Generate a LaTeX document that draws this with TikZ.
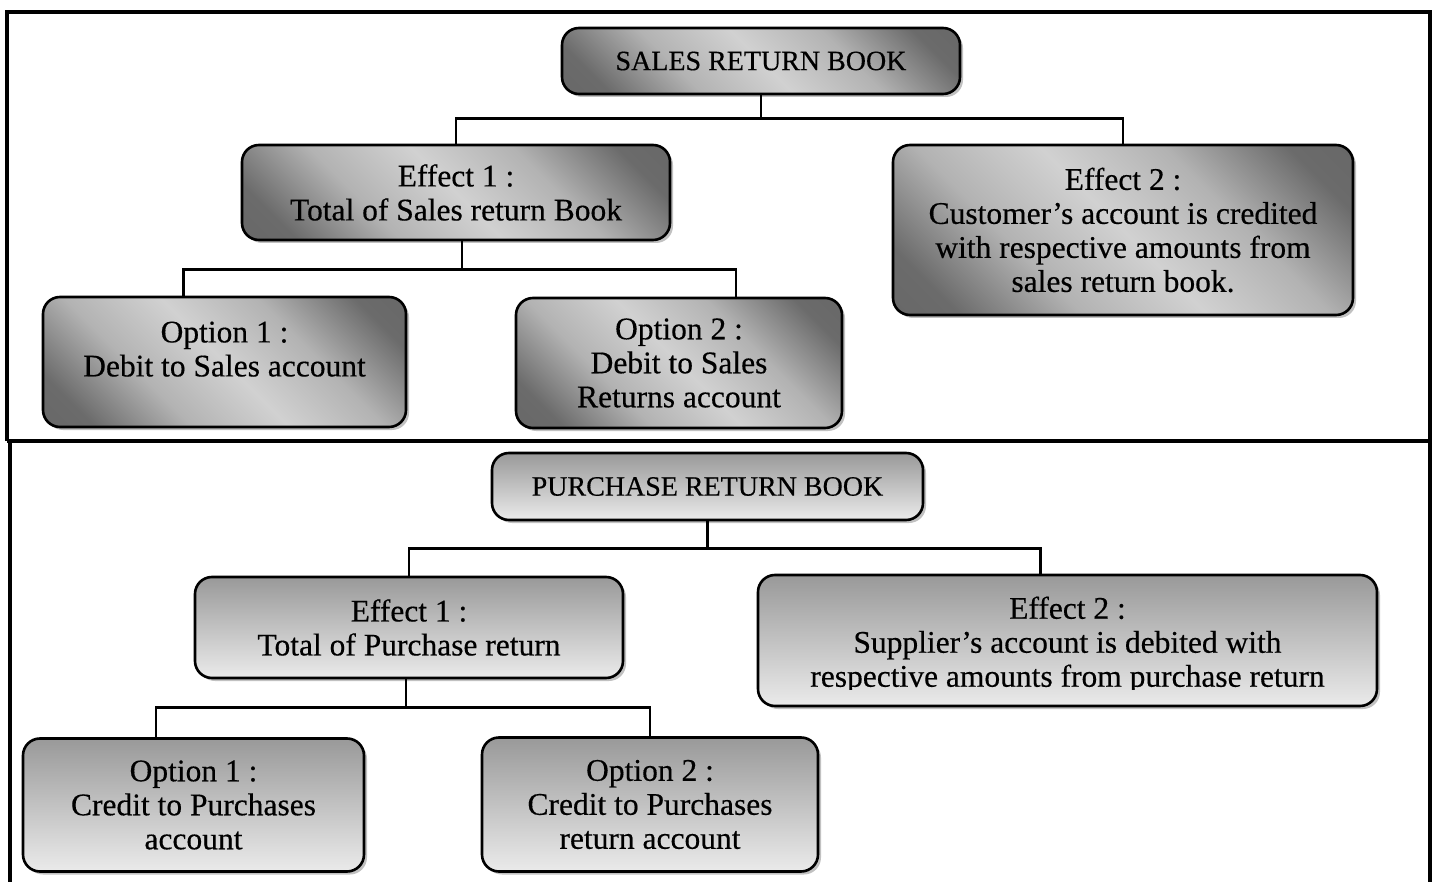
\documentclass[tikz,border=0pt]{standalone}
\usepackage{fontspec}
\setmainfont{Liberation Serif}
\newfontfamily\boxfont{Liberation Serif}[FakeBold=0.4]
\usetikzlibrary{shadows}
\pgfdeclarehorizontalshading{diagshade}{100bp}{color(0bp)=(black!62); color(22bp)=(black!58); color(36bp)=(black!30); color(50bp)=(black!18); color(64bp)=(black!30); color(78bp)=(black!58); color(100bp)=(black!62)}
\begin{document}
\begin{tikzpicture}[x=1pt,y=1pt,
  box/.style={draw=black, line width=2.6pt, rounded corners=17pt, inner sep=0pt,
    align=center, font=\boxfont\fontsize{31.5}{34}\selectfont,
    drop shadow={shadow xshift=3pt, shadow yshift=-3pt, fill=black!30, opacity=0.8}},
  topbox/.style={box, shading=diagshade, shading angle=45},
  botbox/.style={box, top color=black!40, bottom color=black!8},
  title/.style={font=\boxfont\fontsize{28}{32}\selectfont},
  conn/.style={line width=2.6pt},
  frame/.style={line width=3.6pt}]
\useasboundingbox (0,0) rectangle (1435,-882);

% frame
\coordinate (f1) at (7,-441);
\coordinate (f2) at (7,-12);
\coordinate (f3) at (1430,-12);
\coordinate (f4) at (1430,-884);
\coordinate (f5) at (1430,-441);
\coordinate (f6) at (10,-441);
\coordinate (f7) at (10,-884);
\draw[frame] (f1) -- (f2) -- (f3) -- (f4);
\draw[frame] (f1) -- (f5);
\draw[frame] (f6) -- (f7);

% ---------- Sales return book ----------
\node[topbox, title, minimum width=398pt, minimum height=66pt] (srb) at (761,-61) {SALES RETURN BOOK};
\node[topbox, minimum width=428pt, minimum height=95pt] (se1) at (456,-192.5) {Effect 1 :\\Total of Sales return Book};
\node[topbox, minimum width=460pt, minimum height=170pt] (se2) at (1123,-230) {Effect 2 :\\Customer’s account is credited\\with respective amounts from\\sales return book.};
\node[topbox, minimum width=363pt, minimum height=130pt] (so1) at (224.5,-362) {Option 1 :\\Debit to Sales account\\[-8pt]\mbox{}};
\node[topbox, minimum width=326pt, minimum height=130pt] (so2) at (679,-363) {Option 2 :\\Debit to Sales\\Returns account};

\draw[conn] (srb.south) -- ++(0,-23) coordinate (sj);
\draw[conn] (se1.north) |- (sj) -| (se2.north);
\draw[conn] ([xshift=6pt]se1.south) -- ++(0,-28) coordinate (sk);
\draw[conn] ([xshift=-41pt]so1.north) |- (sk) -| ([xshift=57pt]so2.north);

% ---------- Purchase return book ----------
\node[botbox, title, minimum width=431pt, minimum height=67pt] (prb) at (707.5,-486.5) {PURCHASE RETURN BOOK};
\node[botbox, minimum width=428pt, minimum height=101pt] (pe1) at (409,-627.5) {Effect 1 :\\Total of Purchase return};
\node[botbox, minimum width=619pt, minimum height=131pt] (pe2) at (1067.5,-640.5) {};
\begin{scope}
  \clip (760,-577) rectangle (1375,-689);
  \node[align=center, font=\boxfont\fontsize{31.5}{34}\selectfont, inner sep=0pt] (pe2t) at (1067.5,-645) {Effect 2 :\\Supplier’s account is debited with\\respective amounts from purchase return};
\end{scope}
\node[botbox, minimum width=341pt, minimum height=133pt] (po1) at (193.5,-805) {Option 1 :\\Credit to Purchases\\account};
\node[botbox, minimum width=336pt, minimum height=134pt] (po2) at (650,-804.5) {Option 2 :\\Credit to Purchases\\return account};

\draw[conn] (prb.south) -- ++(0,-27) coordinate (pj);
\draw[conn] (pe1.north) |- (pj) -| ([xshift=-27pt]pe2.north);
\draw[conn] ([xshift=-3pt]pe1.south) -- ++(0,-28) coordinate (pk);
\draw[conn] ([xshift=-37.5pt]po1.north) |- (pk) -| (po2.north);
\end{tikzpicture}
\end{document}
